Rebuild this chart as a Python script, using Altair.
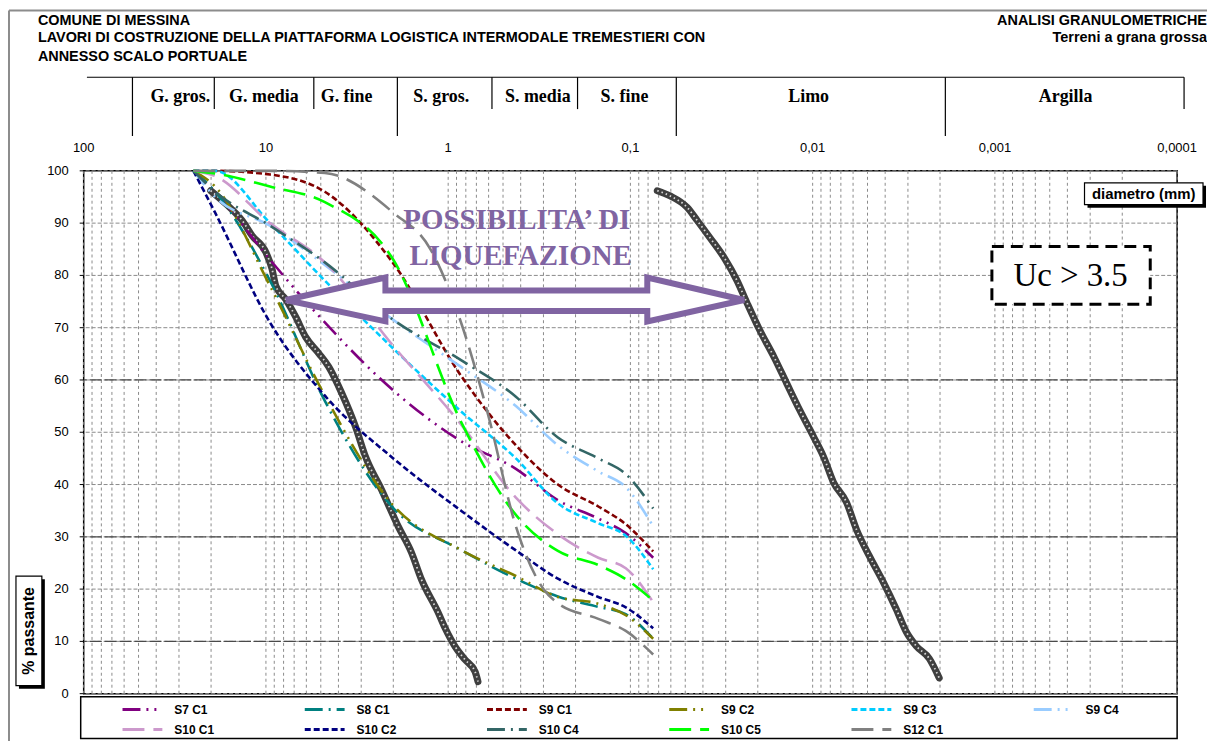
import altair as alt
import pandas as pd

# ---------------- values ----------------
sieves = [25, 19, 9.5, 4.75, 2, 0.85, 0.425, 0.25, 0.15, 0.106, 0.075]

series_names = ["S7 C1", "S8 C1", "S9 C1", "S9 C2", "S9 C3", "S9 C4",
                "S10 C1", "S10 C2", "S10 C4", "S10 C5", "S12 C1"]

s7_c1 = [100, 96, 83, 71, 58, 48.3, 43, 37, 33.5, 30.7, 26]
s8_c1 = [100, 96, 79, 56, 35.5, 27.5, 22, 18.6, 16.6, 15.2, 10.5]
s9_c1 = [100, 100, 99.3, 96, 82.3, 60.8, 47.5, 40, 35.8, 32.4, 27.2]
s9_c2 = [100, 97, 78, 57, 36, 27.5, 22.5, 18.5, 17.2, 15, 10.5]
s9_c3 = [100, 100, 90, 79, 66, 54, 45, 36.4, 32.6, 30.2, 23.8]
s9_c4 = [100, 95, 89.5, 82, 71.5, 62.5, 55, 47.5, 42.5, 39.5, 32]
s10_c1 = [100, 99, 90, 82.5, 66.5, 51.5, 37.5, 30.5, 26, 24, 17.5]
s10_c2 = [100, 92, 71, 57, 45, 35, 27.4, 22, 18.5, 16.5, 12.5]
s10_c4 = [100, 96, 89.5, 82.5, 71.5, 63.8, 56.8, 49, 45, 42, 35.4]
s10_c5 = [100, 99.5, 97, 94, 83, 52, 34.2, 27.3, 24.6, 21.9, 17.8]
s12_c1_sieves = [25, 19, 9.5, 4.75, 2, 1.25, 0.85, 0.6, 0.425, 0.3, 0.25, 0.15, 0.106, 0.075]
s12_c1 = [100, 100, 100, 99.6, 92, 85, 71, 53, 32, 20, 17.3, 14.3, 12, 7.5]

colors = ["#800080", "#008080", "#800000", "#808000", "#00CCFF", "#99CCFF",
          "#CC99CC", "#000080", "#336666", "#00FF00", "#808080"]
dashes = [[18, 6, 2, 6, 2, 6], [18, 6, 2, 6], [6, 3], [18, 6, 2, 6, 2, 6], [6, 3],
          [18, 6, 2, 6, 2, 6], [22, 9], [6, 3], [18, 6, 2, 6], [22, 9], [22, 9]]

# liquefaction limit curves
left_d = [20.1, 16.6, 13.5, 11.9, 10.0, 9.27, 8.82, 7.78, 6.85, 6.05, 5.13, 4.52, 3.84,
          3.22, 2.84, 2.32, 1.88, 1.59, 1.404, 1.134, 1.038, 0.916, 0.808, 0.712, 0.686]
left_p = [96.2, 93.7, 90.5, 87.6, 84.4, 81.3, 78, 75.4, 72, 68.2, 65.1, 62.5, 57.5,
          51, 45.3, 39, 32, 27, 21.9, 15.5, 12.5, 9, 6.5, 4.2, 2.3]
right_d = [0.0712, 0.0605, 0.0488, 0.043, 0.0366, 0.0306, 0.026, 0.0229, 0.0195, 0.0163,
           0.0139, 0.0118, 0.00987, 0.00871, 0.00768, 0.00652, 0.00575, 0.00488, 0.00409,
           0.00348, 0.00306, 0.0027, 0.00229, 0.00202]
right_p = [96.2, 95.2, 93, 90.5, 87.2, 83.4, 79, 74.7, 69.5, 64.4, 59.4, 54.3, 49.1, 45.3,
           40.4, 36.6, 31.4, 26.3, 21.3, 16.2, 11.8, 9.1, 6.7, 3]

# double arrow outline (diameter mm, % passing)
arrow_d = [7.78, 2.21, 2.21, 0.0808, 0.0808, 0.0238, 0.0808, 0.0808, 2.21, 2.21, 7.78]
arrow_p = [75.3, 79.6, 77.1, 77.1, 79.6, 75.3, 71.2, 73.2, 73.2, 71.2, 75.3]
annot_lines = ["POSSIBILITA\u2019 DI", "LIQUEFAZIONE"]
annot_d = [0.42, 0.40]
annot_p = [90.5, 83.8]

# axes / header
x_grid = [k * 10.0 ** e for e in range(-4, 2) for k in range(1, 10)] + [100]
y_ticks = list(range(0, 101, 10))
strong_lines = [10, 30, 60]
decade_vals = [100, 10, 1, 0.1, 0.01, 0.001, 0.0001]
decade_text = ["100", "10", "1", "0,1", "0,01", "0,001", "0,0001"]
band_names = ["G. gros.", "G. media", "G. fine", "S. gros.", "S. media", "S. fine", "Limo", "Argilla"]
band_pos = [29.5, 10.26, 3.61, 1.092, 0.322, 0.1078, 0.01052, 0.000409]
band_full = [54, 1.9, 0.056, 0.00187]
band_short = [19.2, 5.46, 0.575, 0.195, 0.0000916]
band_line = [96, 0.0000916]

# ---------------- tables ----------------
rows = []
for name, vals in zip(series_names[:-1], [s7_c1, s8_c1, s9_c1, s9_c2, s9_c3, s9_c4,
                                         s10_c1, s10_c2, s10_c4, s10_c5]):
    for d, p in zip(sieves, vals):
        rows.append({"series": name, "d": d, "p": p})
for d, p in zip(s12_c1_sieves, s12_c1):
    rows.append({"series": "S12 C1", "d": d, "p": p})
df = pd.DataFrame(rows)

bnd = pd.DataFrame(
    [{"side": "L", "d": d, "p": p} for d, p in zip(left_d, left_p)]
    + [{"side": "R", "d": d, "p": p} for d, p in zip(right_d, right_p)]
)
arrow = pd.DataFrame({"i": list(range(len(arrow_d))), "d": arrow_d, "p": arrow_p})
annot = pd.DataFrame({"t": annot_lines, "d": annot_d, "p": annot_p})
dec = pd.DataFrame({"d": decade_vals, "t": decade_text})
band = pd.DataFrame({"d": band_pos, "t": band_names})
bfull = pd.DataFrame({"d": band_full})
bshort = pd.DataFrame({"d": band_short})
bline = pd.DataFrame({"a": [band_line[0]], "b": [band_line[1]]})
strong = pd.DataFrame({"v": strong_lines})
xg = pd.DataFrame({"d": x_grid})
yg = pd.DataFrame({"v": y_ticks, "t": [str(v) for v in y_ticks]})
one = pd.DataFrame({"k": [0]})

leg = pd.DataFrame({"series": series_names})
leg["col"] = [i % 6 for i in range(len(series_names))]
leg["row"] = [i // 6 for i in range(len(series_names))]
leg["x0"] = 39 + leg["col"] * 183
leg["x1"] = leg["x0"] + 40
leg["ly"] = 541 + leg["row"] * 20
leg["tx"] = leg["x0"] + 52

# ---------------- scales ----------------
xscale = alt.Scale(type="log", domain=[0.0001, 100], reverse=True, nice=False)
yscale = alt.Scale(domain=[0, 100], nice=False, zero=False)
cscale = alt.Scale(domain=series_names, range=colors)
dscale = alt.Scale(domain=series_names, range=dashes)

X = lambda f="d": alt.X(f"{f}:Q", scale=xscale, axis=None)
Y = lambda f="p": alt.Y(f"{f}:Q", scale=yscale, axis=None)

SANS = "Liberation Sans"
SERIF = "Liberation Serif"
PURPLE = "#8064A2"


def txt(text, x, y, size, font=SANS, weight="bold", align="left", color="black", angle=0):
    return alt.Chart(one).mark_text(
        text=text, font=font, fontSize=size, fontWeight=weight, align=align,
        baseline="middle", color=color, angle=angle
    ).encode(x=alt.value(x), y=alt.value(y))


def box(x, x2, y, y2, fill="white", stroke=None, sw=1, dash=None):
    kw = dict(fill=fill)
    if stroke:
        kw["stroke"] = stroke
        kw["strokeWidth"] = sw
    if dash:
        kw["strokeDash"] = dash
    return alt.Chart(one).mark_rect(**kw).encode(
        x=alt.value(x), x2=alt.value(x2), y=alt.value(y), y2=alt.value(y2))


def hrule(x, x2, y, color="black", sw=1):
    return alt.Chart(one).mark_rule(color=color, strokeWidth=sw).encode(
        x=alt.value(x), x2=alt.value(x2), y=alt.value(y))


def vrule(x, y, y2, color="black", sw=1):
    return alt.Chart(one).mark_rule(color=color, strokeWidth=sw).encode(
        x=alt.value(x), y=alt.value(y), y2=alt.value(y2))


# ---------------- layers ----------------
vgrid = alt.Chart(xg).mark_rule(color="#8a8a8a", strokeWidth=1, strokeDash=[3, 3]).encode(x=X())
hgrid = alt.Chart(yg).mark_rule(color="#8a8a8a", strokeWidth=1, strokeDash=[4, 2]).encode(y=Y("v"))
ylab = alt.Chart(yg).mark_text(font=SANS, fontSize=13, align="right", baseline="middle",
                               color="black").encode(x=alt.value(-15), y=Y("v"), text="t:N")
ytick = alt.Chart(yg).mark_rule(color="black", strokeWidth=1).encode(
    x=alt.value(-4), x2=alt.value(0), y=Y("v"))

strong_rules = alt.Chart(strong).mark_rule(color="#4a4a4a", strokeWidth=1.3,
                                           strokeDash=[12, 3]).encode(y=Y("v"))

boundary = alt.Chart(bnd).mark_line(color="#3f3f3f", strokeWidth=7, interpolate="monotone",
                                    strokeCap="round").encode(
    x=X(), y=Y(), detail="side:N", order=alt.Order("d:Q", sort="descending"))
boundary_dots = alt.Chart(bnd).mark_line(color="#d8d8d8", strokeWidth=1.8,
                                         interpolate="monotone", strokeDash=[1.5, 3]).encode(
    x=X(), y=Y(), detail="side:N", order=alt.Order("d:Q", sort="descending"))

curves = alt.Chart(df).mark_line(strokeWidth=2.6, interpolate="monotone",
                                 strokeCap="butt").encode(
    x=X(), y=Y(),
    color=alt.Color("series:N", scale=cscale, legend=None),
    strokeDash=alt.StrokeDash("series:N", scale=dscale, legend=None),
    order=alt.Order("d:Q", sort="descending"),
)

arrow_layer = alt.Chart(arrow).mark_line(fill="white", stroke=PURPLE, strokeWidth=6,
                                         strokeJoin="miter").encode(
    x=X(), y=Y(), order="i:Q")

annot_layer = alt.Chart(annot).mark_text(font=SERIF, fontSize=29, fontWeight="bold",
                                         color=PURPLE, align="center",
                                         baseline="middle").encode(x=X(), y=Y(), text="t:N")

# header band above the plot
dec_labels = alt.Chart(dec).mark_text(font=SANS, fontSize=13, color="black",
                                      baseline="middle").encode(
    x=X(), y=alt.value(-23), text="t:N")
band_labels = alt.Chart(band).mark_text(font=SERIF, fontSize=18, fontWeight="bold",
                                        color="black", baseline="middle").encode(
    x=X(), y=alt.value(-74), text="t:N")
band_full_r = alt.Chart(bfull).mark_rule(color="black", strokeWidth=1.2).encode(
    x=X(), y=alt.value(-94), y2=alt.value(-35))
band_short_r = alt.Chart(bshort).mark_rule(color="black", strokeWidth=1.2).encode(
    x=X(), y=alt.value(-94), y2=alt.value(-62))
band_line_r = alt.Chart(bline).mark_rule(color="black", strokeWidth=1.2).encode(
    x=X("a"), x2="b:Q", y=alt.value(-94))

# legend (manual)
leg_box = box(-3, 1098, 528, 570, fill="white", stroke="black", sw=1.5)
leg_sym = alt.Chart(leg).mark_rule(strokeWidth=3, strokeCap="butt").encode(
    x=alt.X("x0:Q", scale=None, axis=None), x2="x1:Q",
    y=alt.Y("ly:Q", scale=None, axis=None),
    color=alt.Color("series:N", scale=cscale, legend=None),
    strokeDash=alt.StrokeDash("series:N", scale=dscale, legend=None),
)
leg_txt = alt.Chart(leg).mark_text(font=SANS, fontSize=12, fontWeight="bold", align="left",
                                   baseline="middle", color="black").encode(
    x=alt.X("tx:Q", scale=None, axis=None), y=alt.Y("ly:Q", scale=None, axis=None),
    text="series:N")

layers = [
    vgrid, hgrid, strong_rules, ylab, ytick,
    boundary, boundary_dots, curves, arrow_layer, annot_layer,
    # outer frame of the sheet
    vrule(-75, -161, 580, color="#8c8c8c", sw=2),
    hrule(-75, 1130, -161, color="#8c8c8c", sw=2),
    # titles
    txt("COMUNE DI MESSINA", -46, -150, 14.5),
    txt("LAVORI DI COSTRUZIONE DELLA PIATTAFORMA LOGISTICA INTERMODALE TREMESTIERI CON", -46, -133, 14.5),
    txt("ANNESSO SCALO PORTUALE", -46, -114, 14.5),
    txt("ANALISI GRANULOMETRICHE", 1128, -150, 14.5, align="right"),
    txt("Terreni a grana grossa", 1128, -133, 14.5, align="right"),
    band_line_r, band_full_r, band_short_r, band_labels, dec_labels,
    # Uc box
    box(912, 1071, 76, 134, fill="white", stroke="black", sw=3, dash=[12, 7]),
    txt("Uc > 3.5", 991, 106, 33, font=SERIF, weight="normal", align="center"),
    # diametro box
    box(1008, 1127, 15, 37, fill="black"),
    box(1005, 1124, 12, 34, fill="white", stroke="black", sw=1.2),
    txt("diametro (mm)", 1064.5, 23, 15, align="center"),
    # % passante box
    box(-65, -39, 410, 520, fill="black"),
    box(-68, -42, 407, 517, fill="white", stroke="black", sw=1.2),
    txt("% passante", -55, 462, 16, align="center", angle=270),
    leg_box, leg_sym, leg_txt,
]

chart = alt.layer(*layers).properties(
    width=1098, height=525,
    autosize=alt.AutoSizeParams(type="none"),
    padding={"left": 76, "top": 162, "right": 30, "bottom": 46},
    background="white",
).configure_view(stroke="black", strokeWidth=1.5)

chart.save("out.html", embed_options={"renderer": "svg", "actions": False})
